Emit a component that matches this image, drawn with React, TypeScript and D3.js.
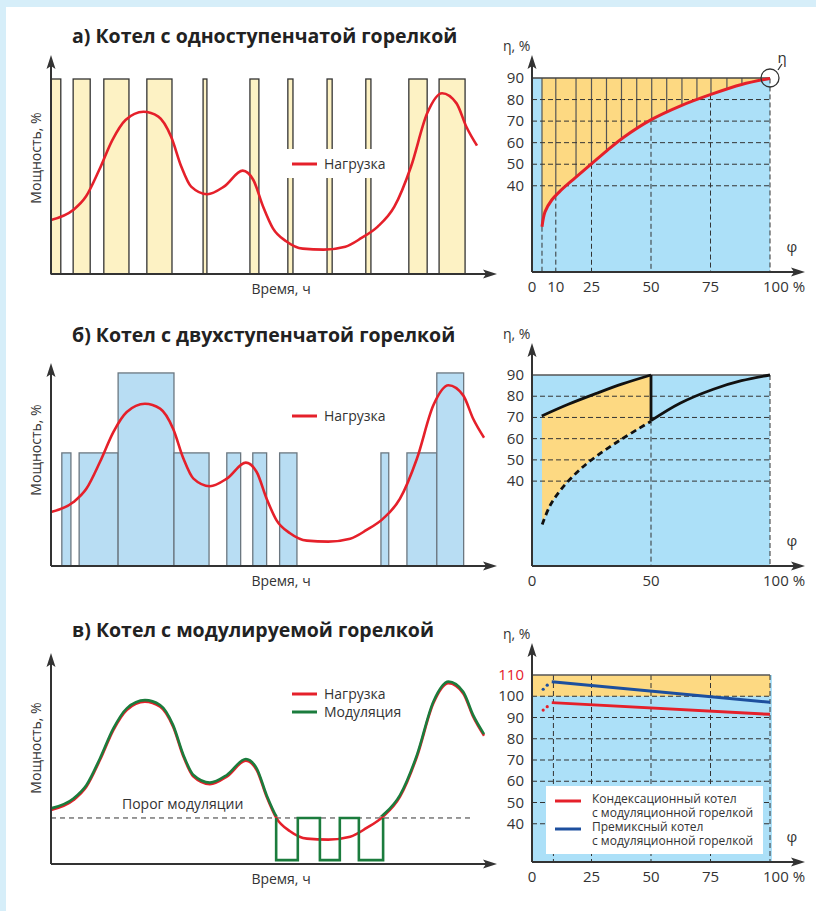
import React, { useRef, useEffect } from 'react';
import * as d3 from 'd3';

const W = 816;
const H = 911;

// load curve, time in relative units 0..100, power in %
const loadTime = [0, 5.2, 8.2, 11.3, 14.4, 17.5, 21.7, 25.2, 28.2, 30.6, 32.9, 36.7, 40.6, 45, 47.5, 49.8, 52.1, 55.2, 59.1, 64, 69.1, 72.9, 76.7, 80.6, 84.5, 88.3, 91.8, 95.2, 97.5, 100];
const loadPower = [27.7, 32.8, 39.7, 53.3, 68.7, 79, 83.2, 80.7, 70.4, 55, 44.8, 40.9, 44.8, 53, 48.2, 34.5, 23.4, 16.8, 13, 12.5, 14, 18.5, 24.3, 34.5, 55, 82.4, 92.7, 87.5, 75.5, 65.8];

// a) single-stage burner: on periods
const singleStart = [0, 5.2, 12.4, 22.5, 35.7, 46.7, 55.6, 64.8, 73.9, 84.0, 91.1];
const singleEnd = [2.3, 9.2, 18.3, 28.4, 36.6, 48.8, 56.8, 66.0, 75.1, 88.3, 97.2];

// b) two-stage burner: on periods and stage level
const twoStart = [2.5, 6.5, 15.5, 28.4, 40.6, 46.6, 52.8, 76.2, 82.2, 89.1];
const twoEnd = [4.6, 15.5, 28.4, 36.5, 43.8, 49.8, 56.8, 78.0, 89.1, 95.3];
const twoLevel = [58, 58, 99, 58, 58, 58, 58, 58, 58, 99];

// c) modulating burner
const modThreshold = 23.6;
const modLow = 2;
const modSwitch = [52.0, 57.0, 62.1, 66.7, 71.1, 76.7];

// efficiency, a)
const effSinglePhi = [4.2, 5.5, 8.3, 11.5, 17.4, 25.2, 31.4, 38.4, 50.3, 62.2, 75.2, 88.1, 100];
const effSingleEta = [21, 28, 33.4, 37.2, 43, 50.4, 56.2, 62.4, 70.8, 77, 82.4, 87, 89.8];
const effSingleSteps = [4.2, 10, 18.5, 25, 31.3, 37.6, 44, 50.3, 56.6, 63, 69.3, 75.2, 81.9, 88.2];
const effSingleGrid = [4.2, 10, 25, 50, 75, 100];
const effSingleTicks = [0, 10, 25, 50, 75, 100];

// efficiency, b)
const twoLowPhi = [4.3, 7.6, 11.8, 17.4, 24.4, 37, 50];
const twoLowEta = [19.6, 28.5, 35.5, 42.5, 49.5, 59.3, 68.2];
const twoFirstPhi = [4.1, 15, 27.2, 38, 50];
const twoFirstEta = [70.7, 76.1, 81.4, 85.8, 90];
const twoSecondPhi = [50, 62.2, 76.2, 88, 100];
const twoSecondEta = [68.5, 76.7, 83.3, 87.3, 90];
const twoTicks = [0, 50, 100];

// efficiency, c)
const modPhi = [8.3, 100];
const condEta = [97, 91.5];
const premixEta = [106.8, 97.2];
const dotPhi = [4.7, 6.4];
const condDotEta = [93.5, 95.1];
const premixDotEta = [103.3, 105.2];
const modGrid = [9, 25, 50, 75, 100];
const modTicks = [0, 25, 50, 75, 100];

const etaTicks = [40, 50, 60, 70, 80, 90];
const etaTicksC = [40, 50, 60, 70, 80, 90, 100, 110];

const FONT = "'Open Sans', 'Noto Sans', sans-serif";
const INK = '#333';
const RED = '#e5202a';
const GREEN = '#1b7c3d';
const NAVY = '#1d4f9e';
const SKY = '#ace0f8';
const ORANGE = '#fdd982';

const App = () => {
  const ref = useRef<SVGSVGElement>(null);

  useEffect(() => {
    const svg = d3.select(ref.current);
    svg.selectAll('*').remove();

    svg.append('rect').attr('width', W).attr('height', H).attr('fill', '#d6eef9');
    svg.append('rect').attr('x', 6).attr('y', 7).attr('width', W - 6).attr('height', H - 7).attr('fill', '#fff');

    const text = (x: number, y: number, s: string, size: number, anchor = 'start', weight = 'normal', fill = INK) =>
      svg.append('text').attr('x', x).attr('y', y).attr('font-family', FONT).attr('font-size', size)
        .attr('font-weight', weight).attr('text-anchor', anchor).attr('fill', fill).text(s);

    const arrowUp = (x: number, y: number) =>
      svg.append('path').attr('d', `M${x},${y} L${x - 4.5},${y + 14} L${x},${y + 11} L${x + 4.5},${y + 14} Z`).attr('fill', INK);
    const arrowRight = (x: number, y: number) =>
      svg.append('path').attr('d', `M${x},${y} L${x - 14},${y - 4.5} L${x - 11},${y} L${x - 14},${y + 4.5} Z`).attr('fill', INK);

    const axes = (x0: number, axisY: number, topY: number, xEnd: number) => {
      svg.append('line').attr('x1', x0).attr('y1', axisY).attr('x2', x0).attr('y2', topY + 8)
        .attr('stroke', INK).attr('stroke-width', 2);
      svg.append('line').attr('x1', x0).attr('y1', axisY).attr('x2', xEnd - 8).attr('y2', axisY)
        .attr('stroke', INK).attr('stroke-width', 2);
      arrowUp(x0, topY);
      arrowRight(xEnd, axisY);
    };

    const loadPts = loadTime.map((t, i) => [t, loadPower[i]] as [number, number]);

    // ---------- left panels ----------
    const leftPanel = (title: string, titleY: number, axisY: number, curveEnd: number) => {
      text(72, titleY, title, 19.5, 'start', 'bold', '#222');
      const x = d3.scaleLinear().domain([0, 100]).range([51, curveEnd]);
      const y = d3.scaleLinear().domain([0, 100]).range([axisY, axisY - 195]);
      const midY = axisY - 116;
      svg.append('text').attr('transform', `translate(41,${midY}) rotate(-90)`)
        .attr('font-family', FONT).attr('font-size', 14).attr('text-anchor', 'middle').attr('fill', INK)
        .text('Мощность, %');
      text(281, axisY + 20, 'Время, ч', 14, 'middle');
      return { x, y };
    };

    const loadLine = (x: d3.ScaleLinear<number, number>, y: d3.ScaleLinear<number, number>) =>
      d3.line<[number, number]>().x(d => x(d[0])).y(d => y(d[1])).curve(d3.curveMonotoneX);

    const legendItem = (lx: number, ly: number, label: string, color: string) => {
      svg.append('line').attr('x1', lx).attr('x2', lx + 25).attr('y1', ly).attr('y2', ly)
        .attr('stroke', color).attr('stroke-width', 3);
      text(lx + 32, ly + 5, label, 14);
    };

    // a)
    {
      const { x, y } = leftPanel('а) Котел с одноступенчатой горелкой', 43, 274, 477);
      svg.append('g').selectAll('rect').data(singleStart).join('rect')
        .attr('x', d => x(d)).attr('y', y(100))
        .attr('width', (d, i) => x(singleEnd[i]) - x(d)).attr('height', y(0) - y(100))
        .attr('fill', '#fdf2c4').attr('stroke', INK).attr('stroke-width', 1.3);
      svg.append('rect').attr('x', 284).attr('y', 149).attr('width', 106).attr('height', 29).attr('fill', '#fff');
      legendItem(292, 164, 'Нагрузка', RED);
      svg.append('path').attr('d', loadLine(x, y)(loadPts)).attr('fill', 'none')
        .attr('stroke', RED).attr('stroke-width', 2.6);
      axes(51, 274, 55, 497);
    }

    // b)
    {
      const { x, y } = leftPanel('б) Котел с двухступенчатой горелкой', 342, 566, 484);
      svg.append('g').selectAll('rect').data(twoStart).join('rect')
        .attr('x', d => x(d)).attr('y', (d, i) => y(twoLevel[i]))
        .attr('width', (d, i) => x(twoEnd[i]) - x(d)).attr('height', (d, i) => y(0) - y(twoLevel[i]))
        .attr('fill', '#b8ddf3').attr('stroke', '#6b7780').attr('stroke-width', 1.3);
      legendItem(292, 416, 'Нагрузка', RED);
      svg.append('path').attr('d', loadLine(x, y)(loadPts)).attr('fill', 'none')
        .attr('stroke', RED).attr('stroke-width', 2.6);
      axes(51, 566, 363, 497);
    }

    // c)
    {
      const { x, y } = leftPanel('в) Котел с модулируемой горелкой', 637, 864, 484);
      const thrY = y(modThreshold);
      svg.append('line').attr('x1', 51).attr('x2', 473).attr('y1', thrY).attr('y2', thrY)
        .attr('stroke', INK).attr('stroke-width', 1).attr('stroke-dasharray', '5,4');
      text(122, 809, 'Порог модуляции', 14);
      legendItem(292, 694, 'Нагрузка', RED);
      legendItem(292, 712, 'Модуляция', GREEN);

      svg.append('path').attr('d', loadLine(x, y)(loadPts)).attr('fill', 'none')
        .attr('stroke', RED).attr('stroke-width', 2.6);

      svg.append('clipPath').attr('id', 'aboveThr').append('rect')
        .attr('x', 40).attr('y', 600).attr('width', 460).attr('height', thrY - 600);
      svg.append('path').attr('d', loadLine(x, y)(loadPts)).attr('fill', 'none')
        .attr('stroke', GREEN).attr('stroke-width', 2.6).attr('transform', 'translate(0,-1.6)')
        .attr('clip-path', 'url(#aboveThr)');

      const sq: [number, number][] = [];
      modSwitch.forEach((t, i) => {
        const down = i % 2 === 0;
        sq.push(down ? [t, modThreshold] : [t, modLow]);
        sq.push(down ? [t, modLow] : [t, modThreshold]);
      });
      svg.append('path').attr('d', d3.line<[number, number]>().x(d => x(d[0])).y(d => y(d[1]))(sq))
        .attr('fill', 'none').attr('stroke', GREEN).attr('stroke-width', 2.6);
      axes(51, 864, 653, 497);
    }

    // ---------- right panels ----------
    const phi = d3.scaleLinear().domain([0, 100]).range([532, 770]);
    const dashed = (x1: number, y1: number, x2: number, y2: number) =>
      svg.append('line').attr('x1', x1).attr('y1', y1).attr('x2', x2).attr('y2', y2)
        .attr('stroke', INK).attr('stroke-width', 1).attr('stroke-dasharray', '5,3');

    const rightLabels = (axisY: number, topY: number, eta: d3.ScaleLinear<number, number>, yt: number[], xt: number[]) => {
      text(503, topY - 4, 'η, %', 14);
      text(792, axisY - 20, 'φ', 15, 'middle');
      yt.forEach(v => text(524, eta(v) + 5, String(v), 15, 'end', 'normal', v === 110 ? RED : INK));
      xt.forEach(v => {
        if (v === 100) text(phi(v) - 7, axisY + 20, '100 %', 15);
        else text(phi(v), axisY + 20, String(v), 15, 'middle');
      });
    };

    // a)
    {
      const eta = d3.scaleLinear().domain([0, 90]).range([272, 78]);
      const pts = effSinglePhi.map((p, i) => [p, effSingleEta[i]] as [number, number]);
      const at = d3.scaleLinear().domain(effSinglePhi).range(effSingleEta);
      svg.append('rect').attr('x', phi(0)).attr('y', eta(90)).attr('width', phi(100) - phi(0))
        .attr('height', eta(0) - eta(90)).attr('fill', SKY);
      svg.append('path').attr('d', d3.area<[number, number]>().x(d => phi(d[0])).y0(eta(90)).y1(d => eta(d[1]))
        .curve(d3.curveCatmullRom)(pts)).attr('fill', ORANGE);
      effSingleSteps.forEach(p => {
        svg.append('line').attr('x1', phi(p)).attr('x2', phi(p)).attr('y1', eta(90)).attr('y2', eta(at(p)))
          .attr('stroke', '#555').attr('stroke-width', 1.2);
      });
      etaTicks.slice(0, 5).forEach(v => dashed(phi(0), eta(v), phi(100), eta(v)));
      effSingleGrid.forEach(p => dashed(phi(p), eta(at(p)), phi(p), eta(0)));
      svg.append('line').attr('x1', phi(0)).attr('x2', phi(100)).attr('y1', eta(90)).attr('y2', eta(90))
        .attr('stroke', '#444').attr('stroke-width', 1.5);
      svg.append('path').attr('d', d3.line<[number, number]>().x(d => phi(d[0])).y(d => eta(d[1]))
        .curve(d3.curveCatmullRom)(pts)).attr('fill', 'none').attr('stroke', RED).attr('stroke-width', 3);
      svg.append('circle').attr('cx', phi(100)).attr('cy', eta(90)).attr('r', 9)
        .attr('fill', 'none').attr('stroke', INK).attr('stroke-width', 1.3);
      svg.append('line').attr('x1', phi(100) + 8).attr('y1', eta(90) - 8).attr('x2', phi(100) + 12).attr('y2', eta(90) - 14)
        .attr('stroke', INK).attr('stroke-width', 1.3);
      text(782, 63, 'η', 15, 'middle');
      axes(532, 272, 55, 805);
      rightLabels(272, 55, eta, etaTicks, effSingleTicks);
    }

    // b)
    {
      const eta = d3.scaleLinear().domain([0, 90]).range([566, 375]);
      const cr = d3.line<[number, number]>().x(d => phi(d[0])).y(d => eta(d[1])).curve(d3.curveCatmullRom);
      const low = twoLowPhi.map((p, i) => [p, twoLowEta[i]] as [number, number]);
      const first = twoFirstPhi.map((p, i) => [p, twoFirstEta[i]] as [number, number]);
      const second = twoSecondPhi.map((p, i) => [p, twoSecondEta[i]] as [number, number]);
      svg.append('rect').attr('x', phi(0)).attr('y', eta(90)).attr('width', phi(100) - phi(0))
        .attr('height', eta(0) - eta(90)).attr('fill', SKY);
      const areaD = (cr(first) as string) + (cr(low.slice().reverse()) as string).replace(/^M/, 'L') + 'Z';
      svg.append('path').attr('d', areaD).attr('fill', ORANGE);
      etaTicks.slice(0, 5).forEach(v => dashed(phi(0), eta(v), phi(100), eta(v)));
      dashed(phi(50), eta(twoSecondEta[0]), phi(50), eta(0));
      dashed(phi(100), eta(90), phi(100), eta(0));
      svg.append('line').attr('x1', phi(0)).attr('x2', phi(100)).attr('y1', eta(90)).attr('y2', eta(90))
        .attr('stroke', '#555').attr('stroke-width', 1.5);
      svg.append('path').attr('d', cr(low)).attr('fill', 'none').attr('stroke', '#111')
        .attr('stroke-width', 2.8).attr('stroke-dasharray', '6,4');
      svg.append('path').attr('d', cr(first)).attr('fill', 'none').attr('stroke', '#111').attr('stroke-width', 2.8);
      svg.append('path').attr('d', cr(second)).attr('fill', 'none').attr('stroke', '#111').attr('stroke-width', 2.8);
      svg.append('line').attr('x1', phi(50)).attr('x2', phi(50)).attr('y1', eta(90)).attr('y2', eta(twoSecondEta[0]))
        .attr('stroke', '#111').attr('stroke-width', 2.8);
      axes(532, 566, 343, 805);
      rightLabels(566, 343, eta, etaTicks, twoTicks);
    }

    // c)
    {
      const eta = d3.scaleLinear().domain([22, 110]).range([862, 675]);
      svg.append('rect').attr('x', phi(0)).attr('y', eta(110)).attr('width', phi(100) - phi(0) + 2)
        .attr('height', eta(22) - eta(110)).attr('fill', SKY);
      svg.append('rect').attr('x', phi(0)).attr('y', eta(110)).attr('width', phi(100) - phi(0))
        .attr('height', eta(100) - eta(110)).attr('fill', ORANGE);
      etaTicksC.slice(0, 7).forEach(v => dashed(phi(0), eta(v), phi(100), eta(v)));
      modGrid.forEach(p => dashed(phi(p), eta(110), phi(p), eta(22)));
      svg.append('line').attr('x1', phi(0)).attr('x2', phi(100)).attr('y1', eta(110)).attr('y2', eta(110))
        .attr('stroke', '#555').attr('stroke-width', 1.5);

      const ln = d3.line<[number, number]>().x(d => phi(d[0])).y(d => eta(d[1]));
      const series = [
        { e: premixEta, dots: premixDotEta, c: NAVY },
        { e: condEta, dots: condDotEta, c: RED },
      ];
      series.forEach(s => {
        svg.append('path').attr('d', ln(modPhi.map((p, i) => [p, s.e[i]] as [number, number])))
          .attr('fill', 'none').attr('stroke', s.c).attr('stroke-width', 3);
        dotPhi.forEach((p, i) => svg.append('circle').attr('cx', phi(p)).attr('cy', eta(s.dots[i]))
          .attr('r', 1.6).attr('fill', s.c));
      });

      svg.append('rect').attr('x', 546).attr('y', 786).attr('width', 217).attr('height', 68).attr('fill', '#fff');
      const leg = [
        { c: RED, l1: 'Кондексационный котел', y: 801 },
        { c: NAVY, l1: 'Премиксный котел', y: 829 },
      ];
      leg.forEach(d => {
        svg.append('line').attr('x1', 555).attr('x2', 581).attr('y1', d.y).attr('y2', d.y)
          .attr('stroke', d.c).attr('stroke-width', 3);
        text(592, d.y + 2, d.l1, 12);
        text(592, d.y + 16, 'с модуляционной горелкой', 12);
      });
      axes(532, 862, 643, 805);
      rightLabels(862, 643, eta, etaTicksC, modTicks);
    }
  }, []);

  return <svg ref={ref} width={W} height={H} style={{ position: 'absolute', left: 0, top: 0 }} />;
};

export default App;
